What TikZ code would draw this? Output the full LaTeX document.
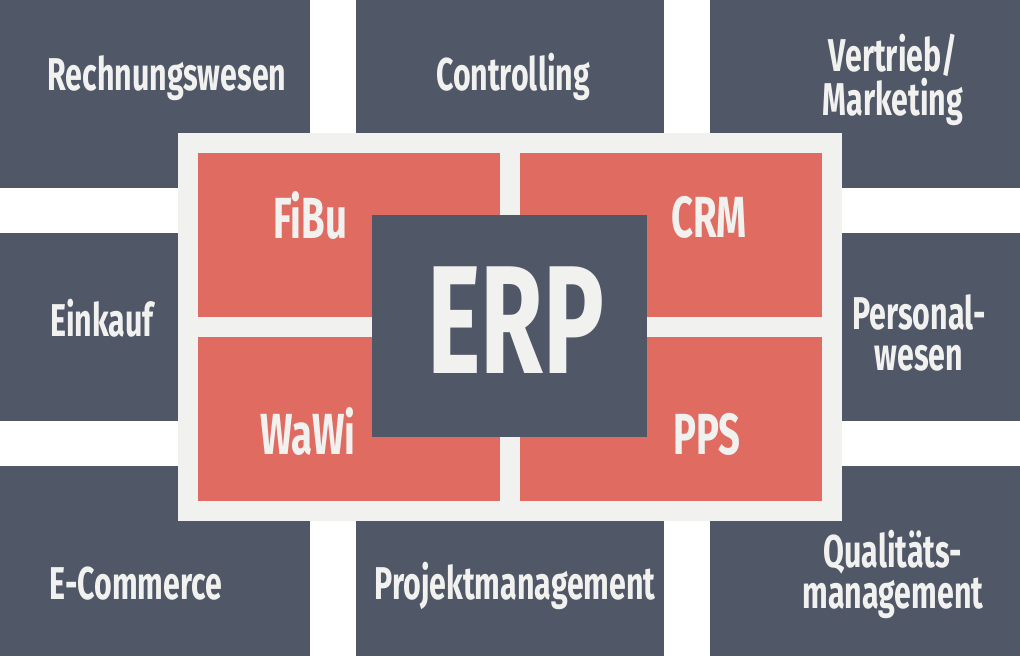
\documentclass[tikz,border=0pt]{standalone}
\usepackage{fontspec}
\newfontfamily\ergfont{Fira Sans}[FakeStretch=0.66]
\definecolor{modulgrau}{HTML}{505767}
\definecolor{kernrot}{HTML}{E06B61}
\definecolor{rahmenweiss}{HTML}{F1F1EF}

\begin{document}
\begin{tikzpicture}[x=1pt,y=-1pt,
	modul/.style={text=rahmenweiss, font=\ergfont\bfseries\fontsize{46}{41}\selectfont, align=center, anchor=base, inner sep=0pt},
	kern/.style={modul, font=\ergfont\bfseries\fontsize{58}{58}\selectfont}]
			\useasboundingbox (0,0) rectangle (1020,656);
			% aeussere Module
			\fill[modulgrau] (0,0) rectangle (310,188);
			\fill[modulgrau] (356,0) rectangle (664,188);
			\fill[modulgrau] (710,0) rectangle (1020,188);
			\fill[modulgrau] (0,233) rectangle (310,421);
			\fill[modulgrau] (710,233) rectangle (1020,421);
			\fill[modulgrau] (0,466) rectangle (310,656);
			\fill[modulgrau] (356,466) rectangle (664,656);
			\fill[modulgrau] (710,466) rectangle (1020,656);
			% ERP-Kern
			\fill[rahmenweiss] (178,133) rectangle (842,521);
			\fill[kernrot] (198,153) rectangle (500,317);
			\fill[kernrot] (520,153) rectangle (822,317);
			\fill[kernrot] (198,337) rectangle (500,501);
			\fill[kernrot] (520,337) rectangle (822,501);
			\fill[modulgrau] (372,215) rectangle (647,437);

			\node[modul] (rewe) at (167,90) {Rechnungswesen};
			\node[modul] (contr) at (513,90) {Controlling};
			\node[modul] (vertrieb) at (893,115) {Vertrieb/\\Marketing};
			\node[modul] (einkauf) at (102,336) {Einkauf};
			\node[modul] (personal) at (919,370) {Personal-\\wesen};
			\node[modul] (ecom) at (136,599) {E-Commerce};
			\node[modul] (projekt) at (515,599) {Projektmanagement};
			\node[modul] (quali) at (893,608) {Qualitäts-\\management};

			\node[kern] (fibu) at (310,238) {FiBu};
			\node[kern] (crm) at (709,237) {CRM};
			\node[kern] (wawi) at (308,454) {WaWi};
			\node[kern] (pps) at (707,454) {PPS};
			\node[modul, font=\ergfont\bfseries\fontsize{154}{154}\selectfont] (erp) at (516,373) {ERP};
\end{tikzpicture}
\end{document}
